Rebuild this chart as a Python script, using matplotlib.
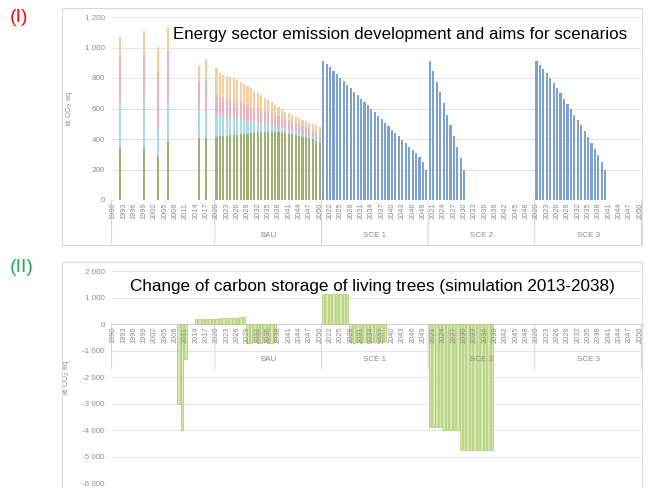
import matplotlib
matplotlib.use("Agg")
import matplotlib.pyplot as plt
from matplotlib.patches import Rectangle
from matplotlib.ticker import FuncFormatter

plt.rcParams['font.family'] = ['Liberation Sans', 'DejaVu Sans']

# category axis: history 1990-2019, then 2020-2050 once per scenario block
hist_years = list(range(1990, 2020))
blocks = ["BAU", "SCE 1", "SCE 2", "SCE 3"]
block_years = list(range(2020, 2051))

# ---- energy sector emissions (kt CO2 eq), four stacked parts ----
inv_years = [1992, 1999, 2003, 2006, 2015, 2017]
inv_green = [340, 340, 290, 385, 405, 405]
inv_blue = [305, 305, 170, 250, 195, 180]
inv_pink = [290, 310, 380, 340, 175, 200]
inv_orange = [135, 150, 160, 160, 105, 140]

bau_green = [415, 417, 419, 421, 423, 426, 428, 430, 432, 434, 437, 439, 441, 444, 447, 450,
             448, 446, 444, 441, 438, 434, 430, 426, 421, 416, 410, 404, 397, 390, 383]
bau_blue = [142, 135, 129, 123, 117, 110, 104, 98, 92, 85, 77, 71, 65, 58, 51, 44,
            40, 36, 32, 29, 25, 23, 20, 18, 16, 14, 14, 13, 13, 12, 12]
bau_pink = [130, 126, 123, 120, 117, 114, 111, 108, 105, 102, 99, 96, 93, 90, 87, 84,
            81, 78, 75, 72, 69, 66, 63, 60, 57, 54, 51, 47, 43, 39, 35]
bau_orange = [181, 152, 151, 151, 151, 148, 142, 136, 129, 124, 119, 112, 104, 96, 87, 78,
              72, 65, 59, 52, 47, 45, 44, 42, 42, 41, 41, 43, 45, 49, 51]

sce1_total = [913, 893, 870, 846, 823, 800, 778, 755, 732, 710, 688, 665, 642, 620, 598, 575,
              552, 530, 508, 485, 462, 440, 418, 395, 372, 350, 328, 305, 280, 250, 200]
sce2_total = [913, 845, 775, 705, 635, 560, 490, 420, 345, 275, 200]
sce3_total = [913, 885, 860, 830, 800, 770, 735, 700, 665, 630, 595, 560, 525, 490, 450,
              410, 375, 335, 295, 250, 200]

# ---- change of carbon storage of living trees (kt CO2 eq) ----
stor_hist_years = [2009, 2010, 2011, 2014, 2015, 2016, 2017, 2018, 2019]
stor_hist = [-3000, -4000, -1300, 190, 195, 200, 200, 205, 210]
stor_bau = [210, 215, 220, 225, 230, 235, 240, 250, 260,
            -720, -700, -690, -710, -700, -680, -700, -720, -690]
stor_sce1 = [1150, 1150, 1150, 1150, 1150, 1150, 1150, 1150,
             -690, -700, -680, -700, -690, -700, -680, -690, -700, -690, -680]
stor_sce2 = [-3860, -3860, -3860, -3860, -4010, -4010, -4010, -4010, -4010,
             -4735, -4735, -4735, -4735, -4735, -4735, -4735, -4735, -4735, -4735]

years_all = hist_years + block_years * len(blocks)
n_cat = len(years_all)


def idx(block, year):
    if block is None:
        return hist_years.index(year)
    return len(hist_years) + blocks.index(block) * len(block_years) + block_years.index(year)


def block_x(block, n):
    start = idx(block, 2020)
    return list(range(start, start + n))


W, H = 648, 488
fig = plt.figure(figsize=(W / 100, H / 100), dpi=100)


def px_axes(left, top, right, bottom):
    return fig.add_axes([left / W, 1 - bottom / H, (right - left) / W, (bottom - top) / H])


def frame(top, bottom):
    fig.add_artist(Rectangle((62 / W, 1 - bottom / H), 580 / W, (bottom - top) / H,
                             transform=fig.transFigure, fill=False, ec='#d9d9d9', lw=0.8))


grey = '#8c8c8c'
thousands = FuncFormatter(lambda v, p: f"{v:,.0f}".replace(",", " "))


def style(ax, lo, hi, step):
    ax.set_xlim(-0.5, n_cat - 0.5)
    ax.set_ylim(lo, hi)
    ax.set_yticks(range(lo, hi + 1, step))
    ax.yaxis.set_major_formatter(thousands)
    ax.set_xticks([])
    for s in ax.spines.values():
        s.set_visible(False)
    ax.tick_params(axis='y', length=0, labelsize=5.8, labelcolor=grey, pad=5)
    ax.grid(axis='y', color='#e3e3e3', lw=0.7)
    ax.set_axisbelow(True)
    ax.axhline(0, color='#d0d0d0', lw=0.7, zorder=1)
    ax.set_ylabel("kt CO$_2$ eq", fontsize=5.5, color=grey, labelpad=7)
    # year labels every third category, hanging under the zero line
    for i in range(0, n_cat, 3):
        ax.annotate(str(years_all[i]), (i, 0), xytext=(0, -2), textcoords='offset points',
                    rotation=90, ha='center', va='top', fontsize=5.3, color=grey,
                    annotation_clip=False, zorder=4)
    # block separators and block names
    bounds = [-0.5, 29.5, 60.5, 91.5, 122.5, 153.5]
    for b in bounds:
        ax.annotate('', xy=(b, 0), xytext=(0, -32), textcoords='offset points',
                    arrowprops=dict(arrowstyle='-', color='#d0d0d0', lw=0.7,
                                    shrinkA=0, shrinkB=0), annotation_clip=False)
    for k, name in enumerate(blocks):
        ax.annotate(name, ((bounds[k + 1] + bounds[k + 2]) / 2, 0), xytext=(0, -25.5),
                    textcoords='offset points', ha='center', va='center', fontsize=5.8,
                    color=grey, annotation_clip=False)


# ---------- (I) energy sector ----------
frame(8, 245)
ax1 = px_axes(111.6, 17, 641.4, 200)
style(ax1, 0, 1200, 200)

c_green, c_blue, c_pink, c_orange = '#9fae72', '#a9dbe6', '#e8b3bd', '#f6cc9c'
c_sce = '#7ea1d3'
bw = 0.62

xs = [idx(None, y) for y in inv_years] + block_x("BAU", len(bau_green))
parts = [inv_green + bau_green, inv_blue + bau_blue, inv_pink + bau_pink, inv_orange + bau_orange]
base = [0] * len(xs)
for vals, col in zip(parts, [c_green, c_blue, c_pink, c_orange]):
    ax1.bar(xs, vals, bottom=base, width=bw, color=col, lw=0, zorder=2)
    base = [b + v for b, v in zip(base, vals)]

for name, vals in [("SCE 1", sce1_total), ("SCE 2", sce2_total), ("SCE 3", sce3_total)]:
    ax1.bar(block_x(name, len(vals)), vals, width=bw, color=c_sce, lw=0, zorder=2)

fig.text(173 / W, 1 - 35 / H, "Energy sector emission development and aims for scenarios",
         fontsize=12.2, color='black', va='center', ha='left')
fig.text(10 / W, 1 - 18 / H, "(I)", fontsize=14, color='#ee1111', va='center')

# ---------- (II) carbon storage ----------
frame(262, 500)
ax2 = px_axes(111.6, 271, 641.4, 483.3)
style(ax2, -6000, 2000, 1000)

c_tree, c_tree_edge = '#d6e8ae', '#a8c66b'
sx = [idx(None, y) for y in stor_hist_years] + block_x("BAU", len(stor_bau)) \
    + block_x("SCE 1", len(stor_sce1)) + block_x("SCE 2", len(stor_sce2))
sv = stor_hist + stor_bau + stor_sce1 + stor_sce2
ax2.bar(sx, sv, width=0.72, color=c_tree, edgecolor=c_tree_edge, lw=0.5, zorder=2)

fig.text(130 / W, 1 - 286 / H, "Change of carbon storage of living trees (simulation 2013-2038)",
         fontsize=12.3, color='black', va='center', ha='left')
fig.text(10 / W, 1 - 268 / H, "(II)", fontsize=14, color='#22b04b', va='center')

fig.savefig("out.png", dpi=100)
